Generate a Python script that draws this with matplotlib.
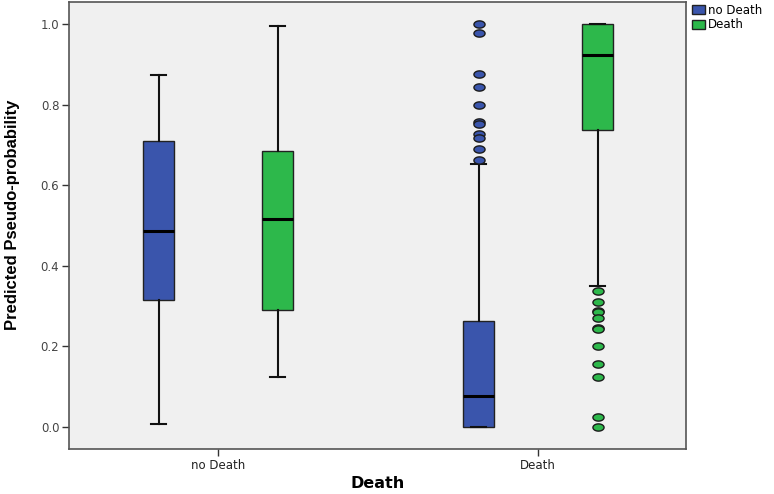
import matplotlib
matplotlib.use("Agg")
import matplotlib.pyplot as plt
from matplotlib.path import Path
from matplotlib.patches import Patch
import numpy as np

categories = ["no Death", "Death"]
series = ["no Death", "Death"]
colors = ["#3A55AC", "#2DB84B"]

# per category, per series: [whislo, q1, med, q3, whishi]
stats_no_death = [[0.007, 0.315, 0.486, 0.710, 0.873],
                  [0.125, 0.290, 0.516, 0.686, 0.995]]
stats_death = [[0.000, 0.000, 0.077, 0.264, 0.652],
               [0.350, 0.737, 0.924, 1.000, 1.000]]
outliers_no_death = [[], []]
outliers_death = [
    [1.001, 0.977, 0.876, 0.843, 0.799, 0.757, 0.751, 0.728, 0.716, 0.690, 0.663],
    [0.338, 0.311, 0.289, 0.285, 0.271, 0.245, 0.242, 0.201, 0.156, 0.125, 0.024, 0.001],
]
yticks = [0.0, 0.2, 0.4, 0.6, 0.8, 1.0]

all_stats = [stats_no_death, stats_death]
all_out = [outliers_no_death, outliers_death]

fig = plt.figure(figsize=(7.74, 4.94), dpi=100)
ax = fig.add_axes([69/774, 45/494, (686-69)/774, (492-45)/494])
ax.set_facecolor("#F0F0F0")

# elliptical marker
t = np.linspace(0, 2*np.pi, 60)
ell = Path(np.column_stack([np.cos(t), 0.65*np.sin(t)]), closed=True)

offset = 0.186
width = 0.097
for ci, cat in enumerate(categories):
    for si, s in enumerate(series):
        lo, q1, med, q3, hi = all_stats[ci][si]
        st = dict(whislo=lo, q1=q1, med=med, q3=q3, whishi=hi, fliers=all_out[ci][si])
        pos = ci + (-offset if si == 0 else offset)
        ax.bxp([st], positions=[pos], widths=width, patch_artist=True,
               showfliers=True,
               boxprops=dict(facecolor=colors[si], edgecolor="#222222", linewidth=1.0),
               medianprops=dict(color="black", linewidth=2.2),
               whiskerprops=dict(color="#111111", linewidth=1.5),
               capprops=dict(color="#111111", linewidth=1.5),
               capwidths=width*0.5,
               flierprops=dict(marker=ell, markersize=8, markerfacecolor=colors[si],
                               markeredgecolor="#1a1a1a", markeredgewidth=1.0, linestyle="none"))

ax.set_xlim(-0.466, 1.4625)
ax.set_ylim(-0.0546, 1.0546)
ax.set_xticks([0, 1])
ax.set_xticklabels(categories, fontsize=8.5, family="DejaVu Sans", color="#222222")
ax.set_yticks(yticks)
ax.set_yticklabels([f"{v:.1f}" for v in yticks], fontsize=8.5, family="DejaVu Sans", color="#444444")
ax.tick_params(axis="both", length=5, width=1.0, color="#333333", pad=2)
for sp in ax.spines.values():
    sp.set_color("#555555")
    sp.set_linewidth(1.2)

ax.set_ylabel("Predicted Pseudo-probability", fontsize=12, fontweight="bold",
              family="Liberation Sans")
ax.yaxis.set_label_coords(-0.079, 0.523)
ax.set_xlabel("Death", fontsize=11.5, fontweight="bold", family="DejaVu Sans", labelpad=3)

handles = [Patch(facecolor=colors[i], edgecolor="#222222", label=series[i]) for i in range(2)]
fig.legend(handles=handles, loc="upper left", bbox_to_anchor=(688/774, 1.0),
           frameon=False, handlelength=1.1, handleheight=0.8,
           handletextpad=0.3, labelspacing=0.15, borderaxespad=0.2, borderpad=0.1,
           prop=dict(family="DejaVu Sans", size=8.5))

fig.savefig("out.png", dpi=100, facecolor="white")
